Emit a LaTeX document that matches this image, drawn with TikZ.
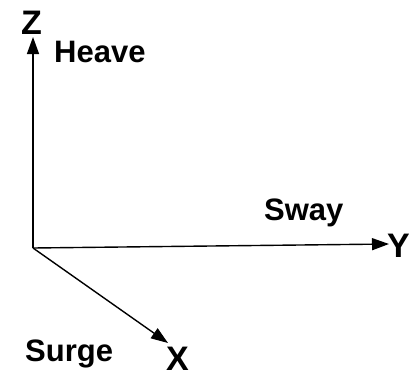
\documentclass[tikz,border=0pt]{standalone}
\usepackage{fontspec}
\setmainfont{Liberation Sans}
\usepackage{tikz}
\usetikzlibrary{arrows.meta}

\begin{document}
\begin{tikzpicture}[
  x=1pt,y=1pt,
  axis/.style={draw=black,line width=1.4pt,-{Triangle[length=17pt,width=12pt]}},
  axlab/.style={inner sep=0pt,anchor=base west,font=\fontsize{34}{40}\selectfont\bfseries},
  dof/.style={inner sep=0pt,anchor=base west,font=\fontsize{31}{36}\selectfont\bfseries}
]
  \useasboundingbox (0,0) rectangle (409,376);
  \coordinate (O) at (33,128);
  \coordinate (ztip) at (33,339);
  \coordinate (ytip) at (389,132);
  \coordinate (xtip) at (168,33);
  \draw[axis] (O) -- (ztip);
  \draw[axis] (O) -- (ytip);
  \draw[axis] (O) -- (xtip);
  \node[axlab] (zlab) at (21,342) {Z};
  \node[axlab] (ylab) at (387,119) {Y};
  \node[axlab] (xlab) at (166,6) {X};
  \node[dof] (heave) at (54,314) {Heave};
  \node[dof] (sway) at (264,156) {Sway};
  \node[dof] (surge) at (25,15) {Surge};
\end{tikzpicture}
\end{document}
